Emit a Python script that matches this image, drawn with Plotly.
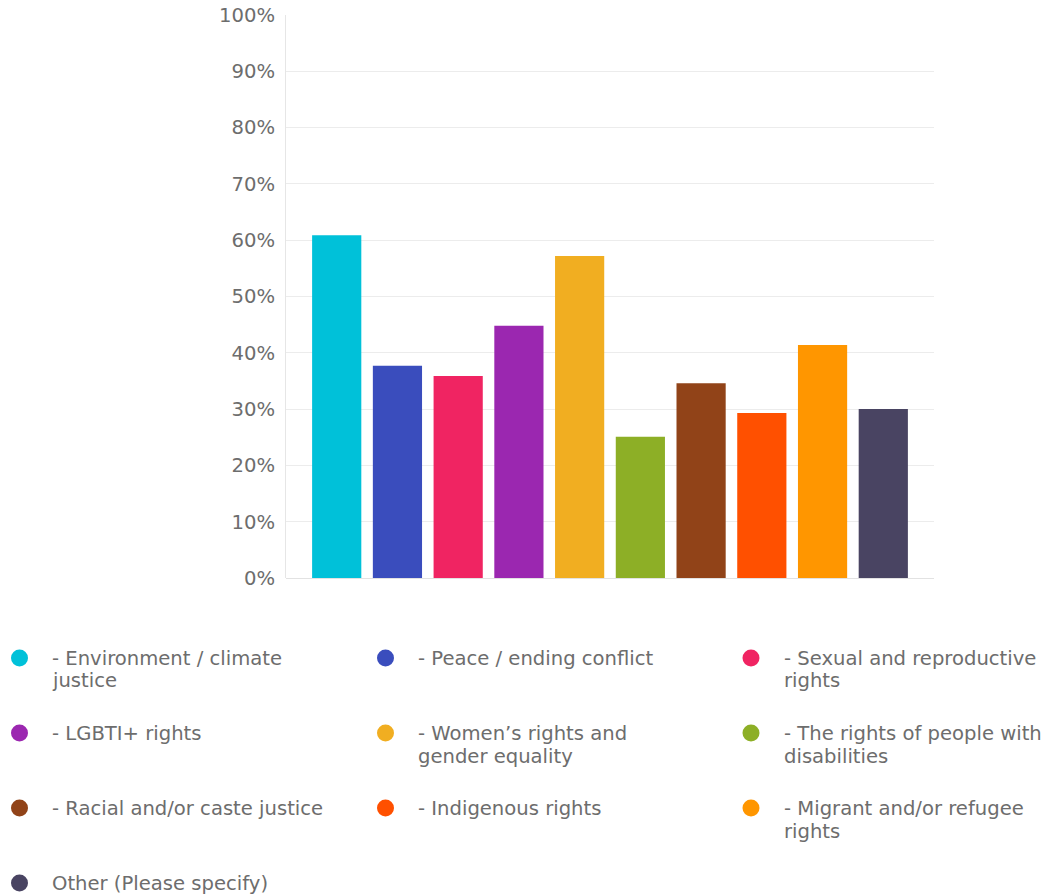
import plotly.graph_objects as go

# Survey share per cause area
categories = [
    "- Environment / climate<br>justice",
    "- Peace / ending conflict",
    "- Sexual and reproductive<br>rights",
    "- LGBTI+ rights",
    "- Women\u2019s rights and<br>gender equality",
    "- The rights of people with<br>disabilities",
    "- Racial and/or caste justice",
    "- Indigenous rights",
    "- Migrant and/or refugee<br>rights",
    "Other (Please specify)",
]
values = [0.609, 0.377, 0.359, 0.448, 0.572, 0.251, 0.346, 0.293, 0.414, 0.300]
colors = ["#00c1d9", "#3a4dbd", "#f02462", "#9b27b0", "#f1ae21",
          "#8daf26", "#914318", "#ff5000", "#ff9600", "#494462"]
y_ticks = [0, 0.1, 0.2, 0.3, 0.4, 0.5, 0.6, 0.7, 0.8, 0.9, 1.0]
y_tick_labels = ["0%", "10%", "20%", "30%", "40%", "50%", "60%", "70%", "80%", "90%", "100%"]

W, H = 1046, 894
L, R, T, B = 286, 112, 15, 316
plot_w, plot_h = W - L - R, H - T - B

FONT = "DejaVu Sans"
TEXT_COLOR = "#6d6d6d"

fig = go.Figure()
fig.add_trace(go.Bar(
    x=list(range(len(values))),
    y=values,
    marker=dict(color=colors, line=dict(width=0)),
    width=0.81,
    hoverinfo="y",
    showlegend=False,
))

# Legend: three columns of coloured dots with wrapped labels
col_x = [19.5, 385.5, 751]
row_y = [658, 733, 808, 883]
text_dx = 30.5
line_step = 23


def to_paper(px, py):
    return (px - L) / plot_w, (T + plot_h - py) / plot_h


annotations = []
shapes = []
for i, (label, color) in enumerate(zip(categories, colors)):
    cx = col_x[i % 3]
    cy = row_y[i // 3]
    ax, ay = to_paper(cx, cy)
    shapes.append(dict(
        type="circle", xref="paper", yref="paper",
        xsizemode="pixel", ysizemode="pixel",
        xanchor=ax, yanchor=ay,
        x0=-8.5, x1=8.5, y0=-8.5, y1=8.5,
        fillcolor=color, line=dict(width=0),
    ))
    for k, line in enumerate(label.split("<br>")):
        tx, ty = to_paper(cx + text_dx, cy + k * line_step)
        annotations.append(dict(
            xref="paper", yref="paper", x=tx, y=ty,
            xanchor="left", yanchor="middle", align="left",
            text=line, showarrow=False,
            font=dict(family=FONT, size=19.6, color=TEXT_COLOR),
        ))

fig.update_layout(
    width=W, height=H,
    margin=dict(l=L, r=R, t=T, b=B, pad=0, autoexpand=False),
    paper_bgcolor="white", plot_bgcolor="white",
    font=dict(family=FONT, color=TEXT_COLOR),
    xaxis=dict(
        range=[-0.835, 9.835], showticklabels=False, showgrid=False,
        zeroline=False, showline=False, ticks="", fixedrange=True,
        automargin=False,
    ),
    yaxis=dict(
        range=[0, 1.0], tickvals=y_ticks, ticktext=y_tick_labels,
        showgrid=True, gridcolor="#ececec", gridwidth=1,
        zeroline=True, zerolinecolor="#e2e2e2", zerolinewidth=1,
        showline=True, linecolor="#e6e6e6", linewidth=1,
        ticks="", ticklabelstandoff=6,
        tickfont=dict(family=FONT, size=19.6, color=TEXT_COLOR),
        fixedrange=True, automargin=False,
    ),
    annotations=annotations,
    shapes=shapes,
)

fig.write_html("out.html")
